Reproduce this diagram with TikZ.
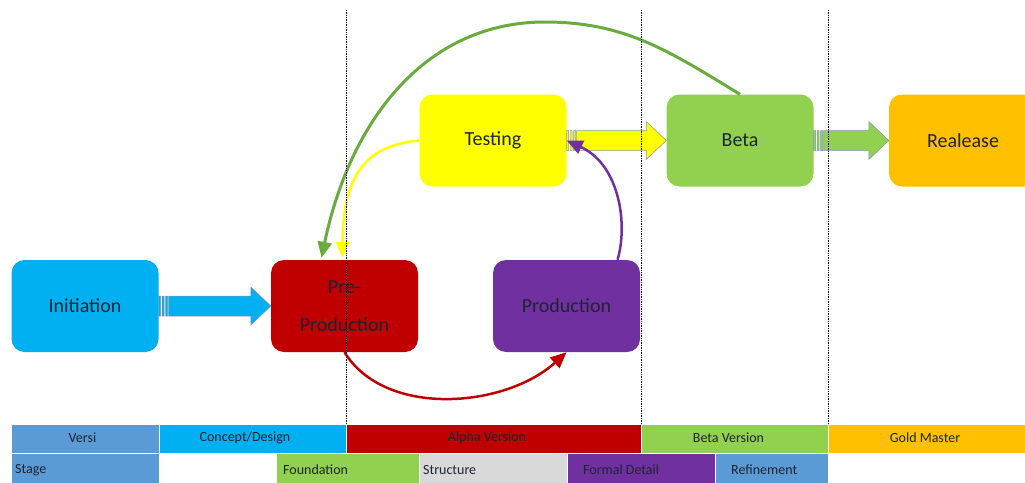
\documentclass[tikz,border=0pt]{standalone}
\usepackage{fontspec}
\setmainfont{Carlito}
\usetikzlibrary{arrows.meta,calc}

\definecolor{cyanbox}{HTML}{00B0F0}
\definecolor{redbox}{HTML}{C00000}
\definecolor{purplebox}{HTML}{7030A0}
\definecolor{yellowbox}{HTML}{FFFF00}
\definecolor{greenbox}{HTML}{92D050}
\definecolor{goldbox}{HTML}{FFC000}
\definecolor{bluecell}{HTML}{5B9BD5}
\definecolor{graycell}{HTML}{D9D9D9}
\definecolor{ink}{HTML}{1E2433}
\definecolor{arcgreen}{HTML}{6AAB3E}
\definecolor{edge}{HTML}{7F94B0}

% striped block arrow from the east side of #1 to the west side of #2, filled with #3
\newcommand\blockarrow[3]{%
  \path let \p1=(#1.east), \p2=(#2.west) in
    [fill=#3, draw=edge, line width=0.5pt]
    (\x1+10pt,\y1+10pt) -- (\x2-20pt,\y1+10pt) -- (\x2-20pt,\y1+19pt) -- (\x2,\y1)
      -- (\x2-20pt,\y1-19pt) -- (\x2-20pt,\y1-10pt) -- (\x1+10pt,\y1-10pt) -- cycle
    (\x1,\y1+10pt) rectangle (\x1+2pt,\y1-10pt)
    (\x1+3.5pt,\y1+10pt) rectangle (\x1+5.5pt,\y1-10pt)
    (\x1+7pt,\y1+10pt) rectangle (\x1+9pt,\y1-10pt);
}

\begin{document}
\begin{tikzpicture}[x=1pt,y=-1pt,
  box/.style={rounded corners=13pt, minimum width=147pt, minimum height=92pt,
    inner sep=0pt, text=ink, font=\fontsize{20}{24}\selectfont},
  arc/.style={line width=2.5pt, -{Triangle[length=16pt,width=14pt]}},
  cell/.style={draw=white, line width=0.8pt, inner sep=0pt},
  celltext/.style={text=ink, font=\fontsize{14}{16}\selectfont, inner sep=0pt},
  divider/.style={densely dotted, line width=0.7pt, black}]
\useasboundingbox (0,0) rectangle (1025,482);
\clip (0,0) rectangle (1025,482);

% process boxes
\node[box, fill=cyanbox]   (init) at (85,306)    {Initiation};
\node[box, fill=redbox, align=center, font=\fontsize{20}{38}\selectfont]
                           (pre)  at (344.5,306) {Pre-\\Production};
\node[box, fill=purplebox] (prod) at (566.5,306) {Production};
\node[box, fill=yellowbox] (test) at (493,140.5) {Testing};
\node[box, fill=greenbox]  (beta) at (740,140.5) {Beta};
\node[box, fill=goldbox, minimum width=148pt] (rel) at (963,140.5) {Realease};

% block arrows between stages
\blockarrow{init}{pre}{cyanbox}
\blockarrow{test}{beta}{yellowbox}
\blockarrow{beta}{rel}{greenbox}

% curved feedback arrows
\coordinate (arcTop) at (545,22);
\draw[arc, redbox] (pre.south) .. controls (385,418) and (505,408) .. (prod.south);
\draw[arc, purplebox] ($(prod.north)+(51,0)$) .. controls (628,225) and (620,165) .. (test.east);
\draw[arc, yellowbox] (test.west) .. controls (370,145) and (343,170) .. ($(pre.north)+(-2,-2)$);
\draw[arc, arcgreen, line width=3pt] (beta.north) .. controls (669,51) and (625,22) .. (arcTop)
  .. controls (425,22) and (350,121) .. ($(pre.north)+(-23,-2)$);

% phase dividers
\draw[divider] (346,10) -- (346,425);
\draw[divider] (641,10) -- (641,425);
\draw[divider] (828,10) -- (828,425);

% version row
\node[cell, fill=bluecell,  minimum width=148pt, minimum height=29pt] (cVersi) at (85,439) {};
\node[cell, fill=cyanbox,   minimum width=187pt, minimum height=29pt] (cConcept) at (252.5,439) {};
\node[cell, fill=redbox,    minimum width=295pt, minimum height=29pt] (cAlpha) at (493.5,439) {};
\node[cell, fill=greenbox,  minimum width=187pt, minimum height=29pt] (cBeta) at (734.5,439) {};
\node[cell, fill=goldbox,   minimum width=197pt, minimum height=29pt] (cGold) at (926.5,439) {};
\node[celltext] (tVersi)   at (82.5,438) {Versi};
\node[celltext] (tConcept) at (245,438)  {Concept/Design};
\node[celltext] (tAlpha)   at (487,438)  {Alpha Version};
\node[celltext] (tBeta)    at (728.5,438) {Beta Version};
\node[celltext] (tGold)    at (925,438)  {Gold Master};

% stage row
\node[cell, fill=bluecell,  minimum width=148pt, minimum height=31pt] (cStage) at (85,469) {};
\node[cell, fill=greenbox,  minimum width=143pt, minimum height=31pt] (cFound) at (347.5,469) {};
\node[cell, fill=graycell,  minimum width=148pt, minimum height=31pt] (cStruct) at (493,469) {};
\node[cell, fill=purplebox, minimum width=148pt, minimum height=31pt] (cFormal) at (641,469) {};
\node[cell, fill=bluecell,  minimum width=113pt, minimum height=31pt] (cRefine) at (771.5,469) {};
\node[celltext, anchor=west] (tStage)  at (15,470)  {Stage};
\node[celltext, anchor=west] (tFound)  at (283,470) {Foundation};
\node[celltext, anchor=west] (tStruct) at (423,470) {Structure};
\node[celltext, anchor=west] (tFormal) at (583,470) {Formal Detail};
\node[celltext, anchor=west] (tRefine) at (731,470) {Refinement};
\end{tikzpicture}
\end{document}
